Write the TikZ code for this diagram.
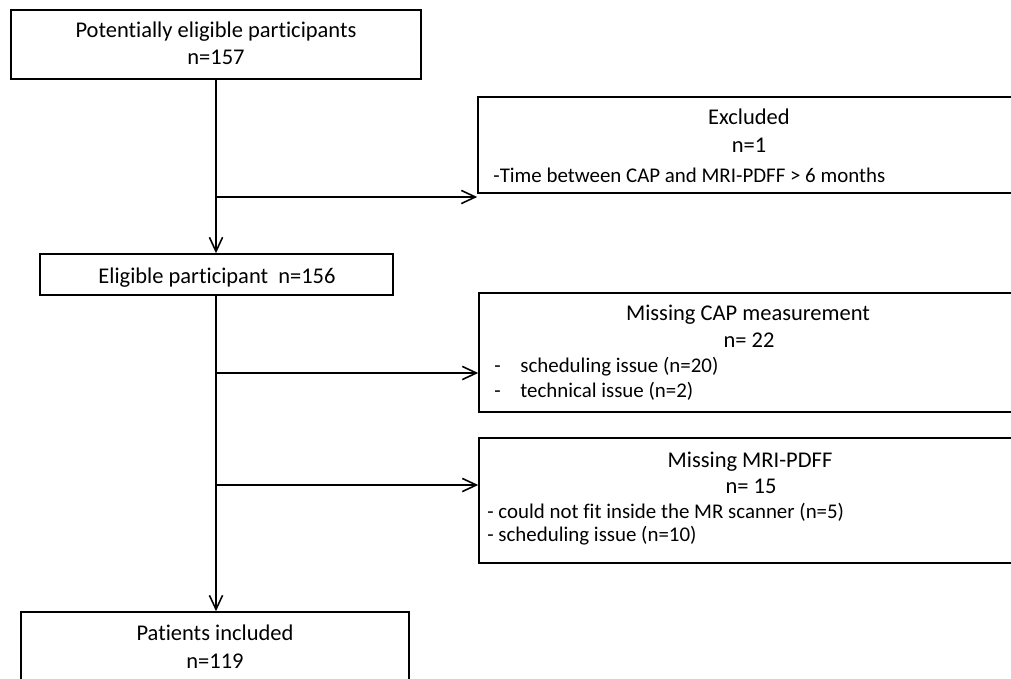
\documentclass[tikz,border=0pt]{standalone}
\usepackage{fontspec}
\setmainfont{Carlito}[Ligatures=NoCommon]
\usetikzlibrary{arrows.meta, fit}

\tikzset{
  box/.style={draw, line width=0.9pt, inner sep=0pt},
  txt/.style={anchor=base, inner sep=0pt, font=\fontsize{12.8}{15.3}\selectfont},
  ltxt/.style={txt, anchor=base west, font=\fontsize{11.9}{14.3}\selectfont},
  flow/.style={line width=0.9pt, -{Straight Barb[length=8pt,width=7.5pt]}}
}

\begin{document}
\begin{tikzpicture}[x=0.02cm, y=-0.02cm]
  \clip (0,0) rectangle (1011,679);
  % boxes
  \node[box, fit={(11,10) (421,79)}] (pot) {};
  \node[box, fit={(40,254) (393,295)}] (elig) {};
  \node[box, fit={(478,97) (1020,193)}] (excl) {};
  \node[box, fit={(479,293) (1020,412)}] (cap) {};
  \node[box, fit={(479,438) (1020,563)}] (mri) {};
  \node[box, fit={(21,612) (409,720)}] (incl) {};
  % texts
  \node[txt] (potA) at (216,38) {Potentially eligible participants};
  \node[txt] (potB) at (216,65) {n=157};
  \node[txt] (eligA) at (217,283) {Eligible participant\ \ n=156};
  \node[txt] (exclA) at (749,125) {Excluded};
  \node[txt] (exclB) at (749,153) {n=1};
  \node[ltxt] (exclC) at (493,182) {-Time between CAP and MRI-PDFF > 6 months};
  \node[txt] (capA) at (748,320) {Missing CAP measurement};
  \node[txt] (capB) at (749,347) {n= 22};
  \node[ltxt] (capC) at (494,372) {-};
  \node[ltxt] (capD) at (520,372) {scheduling issue (n=20)};
  \node[ltxt] (capE) at (494,397) {-};
  \node[ltxt] (capF) at (520,397) {technical issue (n=2)};
  \node[txt] (mriA) at (750,467) {Missing MRI-PDFF};
  \node[txt] (mriB) at (751,493) {n= 15};
  \node[ltxt] (mriC) at (487,518) {- could not fit inside the MR scanner (n=5)};
  \node[ltxt] (mriD) at (487,541) {- scheduling issue (n=10)};
  \node[txt] (inclA) at (215,640) {Patients included};
  \node[txt] (inclB) at (215,668) {n=119};
  % connectors
  \coordinate (b1) at (216,197);
  \coordinate (b2) at (216,373);
  \coordinate (b3) at (216,485);
  \draw[flow] (pot.south) -- (pot.south |- elig.north);
  \draw[flow] (b1) -- (b1 -| excl.west);
  \draw[flow] (pot.south |- elig.south) -- (pot.south |- incl.north);
  \draw[flow] (b2) -- (b2 -| cap.west);
  \draw[flow] (b3) -- (b3 -| mri.west);
\end{tikzpicture}
\end{document}
